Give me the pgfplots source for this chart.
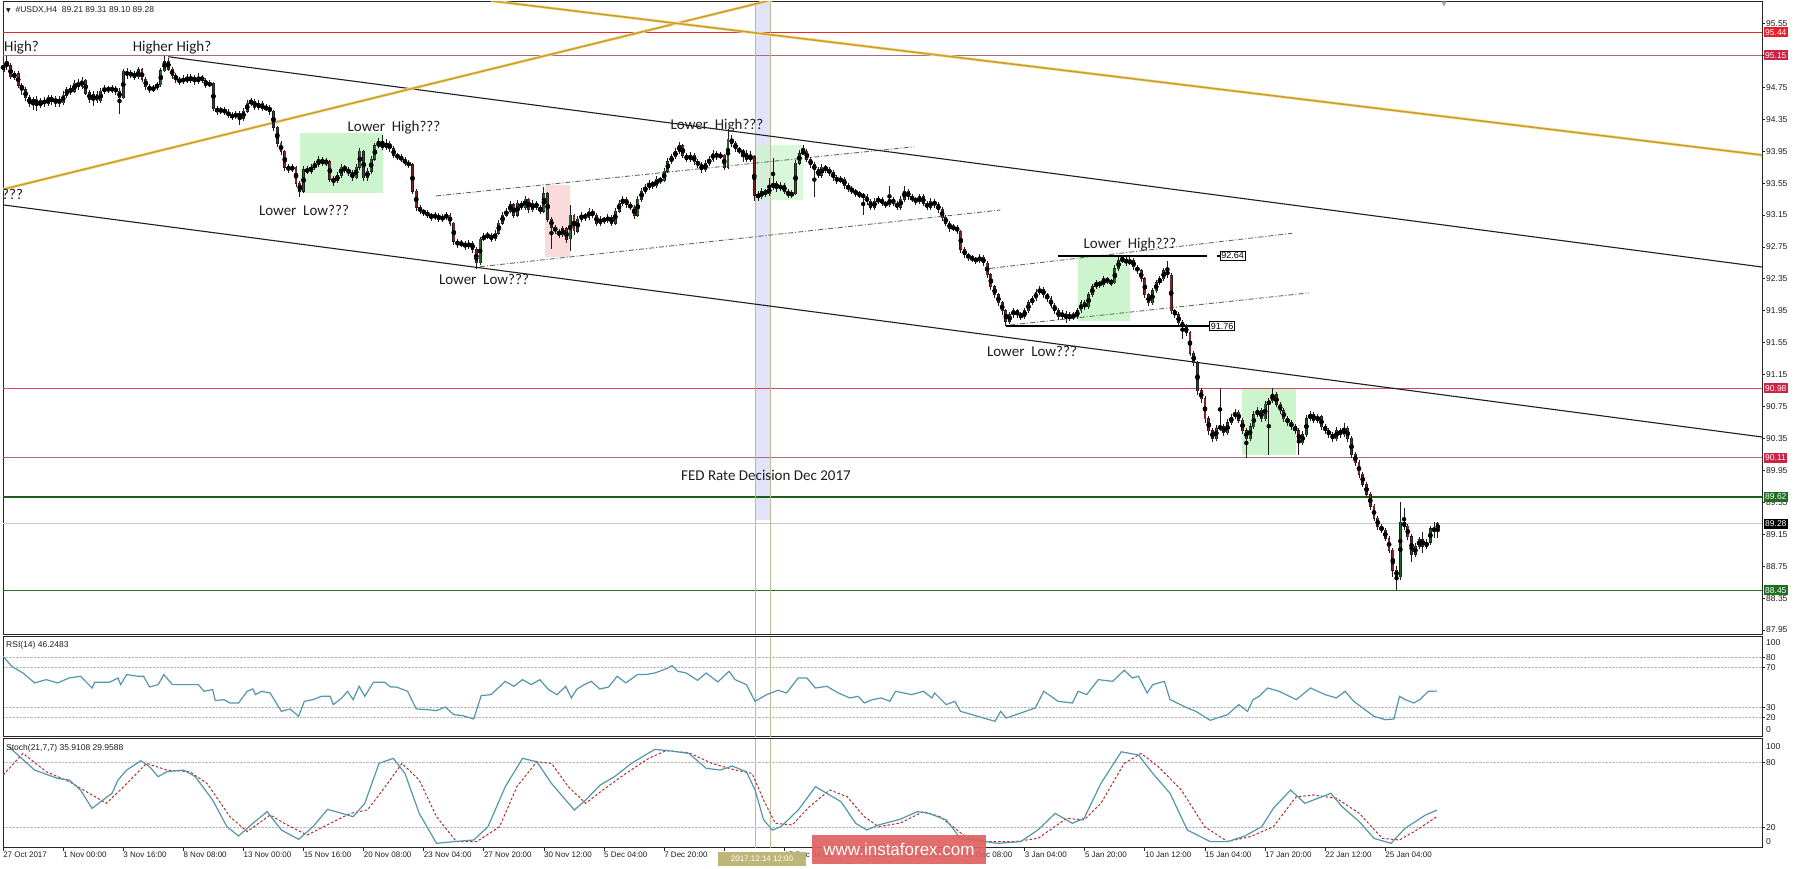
\documentclass[border=0pt]{standalone}
\usepackage{pgfplots}
\pgfplotsset{compat=1.18}
\usepackage{pgfplotstable}
\usepackage{fontspec}
\setmainfont{Liberation Sans}
\newfontfamily\annfont{Carlito}
\newfontfamily\symfont{DejaVu Sans}

\definecolor{upc}{RGB}{38,100,38}
\definecolor{dnc}{RGB}{130,36,36}
\definecolor{wickc}{RGB}{30,30,30}
\definecolor{goldc}{RGB}{204,160,40}
\definecolor{goldl}{RGB}{245,225,165}
\definecolor{chanc}{RGB}{30,30,30}
\definecolor{dashc}{RGB}{85,115,85}
\definecolor{red1}{RGB}{230,40,45}
\definecolor{mauve}{RGB}{165,110,125}
\definecolor{red2}{RGB}{215,70,90}
\definecolor{grn1}{RGB}{30,95,30}
\definecolor{grn2}{RGB}{45,110,45}
\definecolor{bidc}{RGB}{200,200,200}
\definecolor{boxg}{RGB}{205,245,205}
\definecolor{boxp}{RGB}{250,218,218}
\definecolor{bandc}{RGB}{226,226,248}
\definecolor{fedc}{RGB}{190,185,150}
\definecolor{rsic}{RGB}{85,150,175}
\definecolor{sigc}{RGB}{180,45,45}
\definecolor{lblr}{RGB}{232,30,40}
\definecolor{lblc}{RGB}{205,35,70}
\definecolor{lblg}{RGB}{30,110,30}
\definecolor{wmc}{RGB}{224,98,98}
\definecolor{khaki}{RGB}{190,182,120}
\definecolor{txtc}{RGB}{30,30,30}

\pgfplotstableread{
o c h l
94.95 95.05 95.10 94.90
95.05 95.02 95.14 94.97
95.02 94.88 95.06 94.85
94.88 94.92 94.96 94.84
94.92 94.78 94.95 94.74
94.78 94.72 94.81 94.66
94.72 94.62 94.76 94.58
94.62 94.55 94.66 94.50
94.55 94.60 94.63 94.47
94.60 94.52 94.64 94.45
94.52 94.58 94.62 94.49
94.58 94.55 94.63 94.51
94.55 94.62 94.66 94.52
94.62 94.57 94.66 94.53
94.57 94.60 94.64 94.50
94.60 94.56 94.64 94.50
94.56 94.65 94.70 94.53
94.65 94.72 94.76 94.62
94.72 94.70 94.78 94.66
94.70 94.80 94.84 94.68
94.80 94.76 94.86 94.72
94.76 94.84 94.88 94.73
94.84 94.68 94.86 94.65
94.68 94.60 94.72 94.56
94.60 94.66 94.70 94.52
94.66 94.58 94.70 94.55
94.58 94.70 94.74 94.55
94.70 94.74 94.78 94.67
94.74 94.71 94.77 94.68
94.71 94.74 94.78 94.68
94.74 94.70 94.77 94.66
94.70 94.62 94.74 94.42
94.62 94.95 94.98 94.60
94.95 94.90 94.99 94.86
94.90 94.93 94.97 94.87
94.93 94.88 94.96 94.84
94.88 94.97 95.00 94.85
94.97 94.85 94.99 94.82
94.85 94.76 94.88 94.72
94.76 94.72 94.79 94.68
94.72 94.75 94.78 94.69
94.75 94.78 94.82 94.72
94.78 94.96 95.00 94.76
94.96 95.08 95.15 94.94
95.08 94.98 95.12 94.95
94.98 94.90 95.01 94.86
94.90 94.85 94.93 94.80
94.85 94.82 94.88 94.78
94.82 94.86 94.90 94.79
94.86 94.84 94.92 94.80
94.84 94.87 94.92 94.81
94.87 94.82 94.90 94.78
94.82 94.88 94.93 94.79
94.88 94.84 94.91 94.80
94.84 94.78 94.87 94.74
94.78 94.80 94.84 94.75
94.80 94.48 94.82 94.45
94.48 94.45 94.52 94.41
94.45 94.47 94.51 94.42
94.47 94.44 94.50 94.40
94.44 94.40 94.48 94.36
94.40 94.38 94.44 94.34
94.38 94.42 94.46 94.35
94.42 94.36 94.45 94.28
94.36 94.45 94.49 94.33
94.45 94.55 94.59 94.43
94.55 94.58 94.62 94.52
94.58 94.50 94.61 94.47
94.50 94.55 94.59 94.47
94.55 94.48 94.58 94.45
94.48 94.50 94.54 94.45
94.50 94.45 94.53 94.41
94.45 94.25 94.47 94.21
94.25 94.05 94.27 94.00
94.05 93.95 94.08 93.90
93.95 93.75 93.97 93.70
93.75 93.72 93.79 93.68
93.72 93.75 93.79 93.69
93.75 93.55 93.77 93.50
93.55 93.45 93.58 93.38
93.45 93.72 93.76 93.43
93.72 93.70 93.76 93.66
93.70 93.75 93.79 93.67
93.75 93.78 93.83 93.72
93.78 93.85 93.89 93.75
93.85 93.80 93.88 93.76
93.80 93.82 93.87 93.77
93.82 93.60 93.84 93.56
93.60 93.58 93.64 93.52
93.58 93.65 93.69 93.55
93.65 93.75 93.79 93.62
93.75 93.72 93.78 93.68
93.72 93.68 93.75 93.64
93.68 93.62 93.71 93.58
93.62 93.75 93.79 93.60
93.75 93.95 93.99 93.72
93.95 93.62 93.97 93.58
93.62 93.70 93.74 93.58
93.70 93.85 93.89 93.67
93.85 94.02 94.06 93.83
94.02 94.05 94.12 93.99
94.05 94.00 94.15 93.96
94.00 94.05 94.10 93.96
94.05 93.98 94.08 93.94
93.98 93.90 94.01 93.86
93.90 93.88 93.93 93.84
93.88 93.85 93.91 93.81
93.85 93.80 93.88 93.76
93.80 93.78 93.84 93.74
93.78 93.45 93.80 93.41
93.45 93.25 93.48 93.20
93.25 93.20 93.28 93.16
93.20 93.18 93.23 93.14
93.18 93.15 93.21 93.11
93.15 93.12 93.18 93.08
93.12 93.15 93.19 93.09
93.15 93.10 93.18 93.06
93.10 93.12 93.16 93.07
93.12 93.15 93.19 93.09
93.15 93.05 93.18 93.01
93.05 92.82 93.07 92.78
92.82 92.78 92.85 92.74
92.78 92.80 92.84 92.75
92.80 92.75 92.83 92.71
92.75 92.80 92.84 92.72
92.80 92.72 92.83 92.68
92.72 92.55 92.75 92.47
92.55 92.85 92.88 92.52
92.85 92.88 92.92 92.82
92.88 92.90 92.94 92.85
92.90 92.85 92.93 92.81
92.85 92.92 92.96 92.82
92.92 93.05 93.09 92.90
93.05 93.15 93.19 93.02
93.15 93.20 93.24 93.12
93.20 93.28 93.32 93.17
93.28 93.15 93.30 93.11
93.15 93.30 93.34 93.13
93.30 93.25 93.33 93.21
93.25 93.35 93.39 93.22
93.35 93.22 93.37 93.18
93.22 93.30 93.34 93.19
93.30 93.25 93.33 93.21
93.25 93.20 93.28 93.16
93.20 93.42 93.50 93.18
93.42 93.10 93.44 93.06
93.10 93.00 93.13 92.72
93.00 92.95 93.03 92.91
92.95 92.90 92.98 92.86
92.90 92.98 93.02 92.87
92.98 92.85 93.00 92.80
92.85 93.15 93.28 92.70
93.15 92.95 93.17 92.90
92.95 93.10 93.14 92.92
93.10 93.15 93.19 93.07
93.15 93.12 93.18 93.08
93.12 93.20 93.24 93.09
93.20 93.15 93.23 93.11
93.15 93.05 93.18 93.01
93.05 93.10 93.14 93.02
93.10 93.08 93.13 93.04
93.08 93.12 93.16 93.05
93.12 93.05 93.15 93.01
93.05 93.20 93.24 93.03
93.20 93.30 93.34 93.18
93.30 93.35 93.39 93.27
93.35 93.28 93.38 93.24
93.28 93.25 93.31 93.21
93.25 93.15 93.28 93.10
93.15 93.35 93.39 93.13
93.35 93.45 93.49 93.32
93.45 93.50 93.54 93.42
93.50 93.55 93.59 93.47
93.55 93.52 93.58 93.48
93.52 93.60 93.64 93.49
93.60 93.58 93.63 93.54
93.58 93.70 93.74 93.56
93.70 93.82 93.86 93.68
93.82 93.88 93.92 93.79
93.88 93.95 93.99 93.85
93.95 94.02 94.06 93.92
94.02 93.90 94.04 93.86
93.90 93.85 93.93 93.81
93.85 93.90 93.94 93.82
93.90 93.82 93.93 93.78
93.82 93.78 93.85 93.74
93.78 93.72 93.81 93.68
93.72 93.80 93.84 93.69
93.80 93.85 93.89 93.77
93.85 93.92 93.96 93.82
93.92 93.88 93.95 93.84
93.88 93.90 93.94 93.85
93.90 93.75 93.92 93.71
93.75 94.10 94.20 93.73
94.10 94.05 94.16 94.01
94.05 93.98 94.08 93.94
93.98 93.95 94.01 93.91
93.95 93.92 93.98 93.82
93.92 93.85 93.96 93.81
93.85 93.88 93.95 93.82
93.88 93.40 93.90 93.33
93.40 93.38 93.45 93.33
93.38 93.45 93.49 93.35
93.45 93.42 93.48 93.38
93.42 93.50 93.62 93.39
93.50 93.55 93.86 93.47
93.55 93.48 93.58 93.44
93.48 93.52 93.56 93.45
93.52 93.45 93.55 93.41
93.45 93.40 93.48 93.36
93.40 93.42 93.46 93.37
93.42 93.80 93.84 93.40
93.80 93.92 93.96 93.78
93.92 93.95 94.03 93.90
93.95 93.85 93.98 93.81
93.85 93.78 93.88 93.74
93.78 93.72 93.81 93.38
93.72 93.65 93.75 93.61
93.65 93.75 93.79 93.62
93.75 93.72 93.78 93.68
93.72 93.68 93.75 93.64
93.68 93.62 93.71 93.58
93.62 93.58 93.65 93.54
93.58 93.60 93.64 93.55
93.60 93.52 93.63 93.48
93.52 93.48 93.55 93.44
93.48 93.45 93.51 93.41
93.45 93.42 93.48 93.38
93.42 93.40 93.45 93.36
93.40 93.38 93.43 93.15
93.38 93.32 93.41 93.28
93.32 93.25 93.35 93.21
93.25 93.32 93.36 93.22
93.32 93.35 93.39 93.29
93.35 93.30 93.38 93.26
93.30 93.28 93.33 93.24
93.28 93.35 93.52 93.25
93.35 93.30 93.38 93.26
93.30 93.25 93.33 93.21
93.25 93.35 93.39 93.22
93.35 93.45 93.52 93.32
93.45 93.38 93.48 93.34
93.38 93.35 93.41 93.31
93.35 93.32 93.38 93.28
93.32 93.38 93.42 93.29
93.38 93.30 93.41 93.26
93.30 93.25 93.33 93.21
93.25 93.32 93.36 93.22
93.32 93.28 93.35 93.24
93.28 93.22 93.31 93.18
93.22 93.12 93.25 93.08
93.12 93.05 93.15 93.01
93.05 92.98 93.08 92.94
92.98 93.00 93.04 92.95
93.00 92.95 93.03 92.91
92.95 92.72 92.97 92.68
92.72 92.65 92.75 92.61
92.65 92.62 92.68 92.58
92.62 92.60 92.65 92.56
92.60 92.58 92.63 92.54
92.58 92.62 92.66 92.55
92.62 92.55 92.65 92.51
92.55 92.40 92.58 92.36
92.40 92.25 92.43 92.21
92.25 92.15 92.28 92.11
92.15 92.05 92.18 92.01
92.05 91.95 92.08 91.90
91.95 91.82 91.98 91.76
91.82 91.90 91.94 91.78
91.90 91.95 91.99 91.86
91.95 91.90 91.98 91.86
91.90 91.88 91.93 91.84
91.88 91.95 91.99 91.85
91.95 92.05 92.09 91.92
92.05 92.10 92.14 92.02
92.10 92.18 92.22 92.07
92.18 92.22 92.26 92.15
92.22 92.15 92.25 92.11
92.15 92.10 92.18 92.06
92.10 92.02 92.13 91.98
92.02 91.95 92.05 91.91
91.95 91.88 91.98 91.84
91.88 91.92 91.96 91.85
91.92 91.85 91.95 91.80
91.85 91.90 91.94 91.82
91.90 91.88 91.93 91.83
91.88 91.95 91.99 91.85
91.95 92.05 92.09 91.92
92.05 92.00 92.08 91.96
92.00 92.15 92.19 91.98
92.15 92.25 92.29 92.12
92.25 92.30 92.34 92.22
92.30 92.28 92.33 92.24
92.28 92.35 92.39 92.25
92.35 92.32 92.38 92.28
92.32 92.30 92.35 92.26
92.30 92.48 92.52 92.28
92.48 92.58 92.62 92.45
92.58 92.60 92.65 92.55
92.60 92.55 92.63 92.51
92.55 92.58 92.62 92.52
92.58 92.50 92.61 92.46
92.50 92.45 92.53 92.41
92.45 92.35 92.48 92.31
92.35 92.15 92.38 92.11
92.15 92.05 92.18 92.01
92.05 92.20 92.24 92.02
92.20 92.30 92.34 92.17
92.30 92.35 92.39 92.27
92.35 92.45 92.49 92.32
92.45 92.40 92.58 92.36
92.40 91.95 92.42 91.91
91.95 91.90 91.98 91.86
91.90 91.80 91.93 91.76
91.80 91.75 91.83 91.60
91.75 91.68 91.78 91.64
91.68 91.42 91.70 91.38
91.42 91.30 91.45 91.26
91.30 90.95 91.32 90.90
90.95 90.85 90.98 90.80
90.85 90.60 90.88 90.55
90.60 90.45 90.63 90.40
90.45 90.35 90.48 90.30
90.35 90.48 90.52 90.32
90.48 90.50 90.98 90.45
90.50 90.42 90.53 90.38
90.42 90.55 90.59 90.39
90.55 90.62 90.66 90.52
90.62 90.68 90.72 90.59
90.68 90.58 90.71 90.54
90.58 90.45 90.61 90.41
90.45 90.35 90.48 90.11
90.35 90.50 90.54 90.32
90.50 90.65 90.69 90.47
90.65 90.70 90.74 90.62
90.70 90.60 90.73 90.56
90.60 90.78 90.82 90.57
90.78 90.82 90.86 90.15
90.82 90.90 90.98 90.79
90.90 90.78 90.93 90.74
90.78 90.70 90.81 90.66
90.70 90.60 90.73 90.56
90.60 90.55 90.63 90.51
90.55 90.50 90.58 90.46
90.50 90.45 90.53 90.41
90.45 90.30 90.48 90.15
90.30 90.40 90.44 90.27
90.40 90.60 90.64 90.37
90.60 90.65 90.69 90.57
90.65 90.58 90.68 90.54
90.58 90.62 90.66 90.55
90.62 90.50 90.65 90.46
90.50 90.45 90.53 90.41
90.45 90.40 90.48 90.36
90.40 90.35 90.43 90.31
90.35 90.45 90.49 90.32
90.45 90.40 90.48 90.36
90.40 90.48 90.55 90.37
90.48 90.35 90.51 90.31
90.35 90.15 90.38 90.11
90.15 90.05 90.18 90.01
90.05 89.90 90.08 89.86
89.90 89.78 89.93 89.74
89.78 89.65 89.81 89.61
89.65 89.50 89.68 89.46
89.50 89.35 89.53 89.31
89.35 89.25 89.38 89.21
89.25 89.20 89.28 89.16
89.20 89.10 89.23 89.06
89.10 88.95 89.13 88.91
88.95 88.70 88.98 88.62
88.70 88.62 88.75 88.45
88.62 89.30 89.55 88.58
89.30 89.25 89.48 89.20
89.25 89.12 89.28 89.08
89.12 88.90 89.15 88.80
88.90 89.00 89.04 88.86
89.00 89.08 89.12 88.96
89.08 89.00 89.18 88.92
89.00 89.05 89.09 88.97
89.05 89.22 89.26 89.02
89.22 89.20 89.31 89.10
89.21 89.28 89.31 89.10
}\candles

\pgfplotsset{
  panel/.style={
    scale only axis, width=1759pt,
    xmin=-0.02, xmax=468.3,
    axis line style={draw=black!85, line width=1pt},
    tick align=outside, major tick length=3pt,
    tick style={draw=black!85, line width=0.8pt},
    ytick pos=right, yticklabel pos=right,
    yticklabel style={font=\fontsize{8.5}{9}\selectfont, text=txtc, anchor=west, inner sep=1pt},
    /pgf/number format/assume math mode=true,
  },
  hl/.style={forget plot, line width=#1},
}

\begin{document}
\begin{tikzpicture}[x=1pt,y=1pt]
\useasboundingbox (0,0) rectangle (1800,868);
\fill[white] (0,0) rectangle (1800,868);

% ---------------- main price panel ----------------
\begin{axis}[panel, at={(3pt,866pt)}, anchor=north west, height=632pt,
  ymin=87.9, ymax=95.82, xtick=\empty,
  ytick={87.95,88.35,88.75,89.15,89.55,89.95,90.35,90.75,91.15,91.55,91.95,92.35,92.75,93.15,93.55,93.95,94.35,94.75,95.15,95.55},
  yticklabel style={/pgf/number format/.cd, fixed, fixed zerofill, precision=2},
]
% FED band
\addplot[forget plot, fill=bandc, draw=none] coordinates {(200.2,89.33) (204.2,89.33) (204.2,95.82) (200.2,95.82)} -- cycle;
% shaded boxes
\addplot[forget plot, fill=boxg, draw=none] coordinates {(79.1,93.43) (101.2,93.43) (101.2,94.18) (79.1,94.18)} -- cycle;
\addplot[forget plot, fill=boxp, draw=none] coordinates {(144.3,92.63) (151.0,92.63) (151.0,93.53) (144.3,93.53)} -- cycle;
\addplot[forget plot, fill=boxg, draw=none, opacity=0.75] coordinates {(200.2,93.34) (213.0,93.34) (213.0,94.03) (200.2,94.03)} -- cycle;
\addplot[forget plot, fill=boxg, draw=none] coordinates {(286.3,91.82) (300.1,91.82) (300.1,92.65) (286.3,92.65)} -- cycle;
\addplot[forget plot, fill=boxg, draw=none] coordinates {(329.9,90.14) (344.3,90.14) (344.3,90.98) (329.9,90.98)} -- cycle;
% horizontal levels
\addplot[hl=1pt, red1] coordinates {(-0.02,95.44) (468.3,95.44)};
\addplot[hl=1.6pt, mauve] coordinates {(-0.02,95.15) (468.3,95.15)};
\addplot[hl=1pt, red2] coordinates {(-0.02,90.98) (468.3,90.98)};
\addplot[hl=1.6pt, mauve] coordinates {(-0.02,90.11) (468.3,90.11)};
\addplot[hl=2pt, grn1] coordinates {(-0.02,89.62) (468.3,89.62)};
\addplot[hl=1pt, bidc] coordinates {(-0.02,89.28) (468.3,89.28)};
\addplot[hl=1pt, grn2] coordinates {(-0.02,88.45) (468.3,88.45)};
% FED vertical lines
\addplot[hl=1pt, fedc] coordinates {(200.2,87.9) (200.2,95.82)};
\addplot[hl=1pt, fedc] coordinates {(204.2,87.9) (204.2,95.82)};
% dash-dot channels
\addplot[hl=0.9pt, dashc, dash pattern=on 5pt off 2pt on 1pt off 2pt] coordinates {(115.3,93.39) (242.6,94.006)};
\addplot[hl=0.9pt, dashc, dash pattern=on 5pt off 2pt on 1pt off 2pt] coordinates {(127.0,92.503) (265.5,93.213)};
\addplot[hl=0.9pt, dashc, dash pattern=on 5pt off 2pt on 1pt off 2pt] coordinates {(262.8,92.482) (343.2,92.921)};
\addplot[hl=0.9pt, dashc, dash pattern=on 5pt off 2pt on 1pt off 2pt] coordinates {(268.1,91.772) (347.7,92.175)};
% black channel
\addplot[hl=1.1pt, chanc] coordinates {(43.96,95.134) (468.3,92.499)};
\addplot[hl=1.1pt, chanc] coordinates {(-0.02,93.2775) (468.3,90.369)};
% gold lines
\addplot[hl=3pt, goldl] coordinates {(-1,93.461) (210,95.908)};
\addplot[hl=1.6pt, goldc] coordinates {(-1,93.461) (210,95.908)};
\addplot[hl=3pt, goldl] coordinates {(130,95.834) (468.3,93.902)};
\addplot[hl=1.6pt, goldc] coordinates {(130,95.834) (468.3,93.902)};
% black level segments
\addplot[hl=1.8pt, black] coordinates {(280.9,92.64) (320.6,92.64)};
\addplot[hl=1.8pt, black] coordinates {(323.3,92.64) (324.6,92.64)};
\addplot[hl=1.8pt, black] coordinates {(267.1,91.76) (321.0,91.76)};
% candles: wicks
\addplot[forget plot, only marks, mark=none,
  error bars/.cd, y dir=both, y explicit, error mark=none,
  error bar style={draw=wickc, line width=0.9pt}]
  table[x expr=\coordindex, y expr={(\thisrow{h}+\thisrow{l})/2}, y error expr={(\thisrow{h}-\thisrow{l})/2}] {\candles};
% body outlines
\addplot[forget plot, only marks, mark=none,
  error bars/.cd, y dir=both, y explicit, error mark=none,
  error bar style={draw=wickc, line width=2.9pt}]
  table[x expr=\coordindex, y expr={(\thisrow{o}+\thisrow{c})/2}, y error expr={max(abs(\thisrow{c}-\thisrow{o})/2,0.007)+0.006}] {\candles};
% up bodies
\addplot[forget plot, only marks, mark=none, restrict y to domain=80:100,
  error bars/.cd, y dir=both, y explicit, error mark=none,
  error bar style={draw=upc, line width=1.5pt}]
  table[x expr=\coordindex, y expr={\thisrow{c}>=\thisrow{o} ? (\thisrow{o}+\thisrow{c})/2 : 0}, y error expr={max(abs(\thisrow{c}-\thisrow{o})/2,0.004)}] {\candles};
% down bodies
\addplot[forget plot, only marks, mark=none, restrict y to domain=80:100,
  error bars/.cd, y dir=both, y explicit, error mark=none,
  error bar style={draw=dnc, line width=1.5pt}]
  table[x expr=\coordindex, y expr={\thisrow{c}<\thisrow{o} ? (\thisrow{o}+\thisrow{c})/2 : 0}, y error expr={max(abs(\thisrow{c}-\thisrow{o})/2,0.004)}] {\candles};
% anchors for right labels
\coordinate (L1) at (axis cs:468.3,95.44);
\coordinate (L2) at (axis cs:468.3,95.15);
\coordinate (L3) at (axis cs:468.3,90.98);
\coordinate (L4) at (axis cs:468.3,90.11);
\coordinate (L5) at (axis cs:468.3,89.62);
\coordinate (L6) at (axis cs:468.3,89.28);
\coordinate (L7) at (axis cs:468.3,88.45);
\coordinate (B1) at (axis cs:324.0,92.64);
\coordinate (B2) at (axis cs:321.2,91.76);
\end{axis}

% ---------------- RSI panel ----------------
\begin{axis}[panel, at={(3pt,231pt)}, anchor=north west, height=100pt,
  ymin=0, ymax=100.6, xtick=\empty,
  ytick={20,30,70,80}, ymajorgrids,
  major grid style={draw=gray!55, densely dotted, line width=0.8pt},
]
\addplot[hl=1pt, fedc] coordinates {(200.2,0) (200.2,100.6)};
\addplot[hl=1pt, fedc] coordinates {(204.2,0) (204.2,100.6)};
\addplot[rsic, line width=1.2pt] coordinates {
(0,81.2) (2.3,71.1) (5.3,64.4) (8.4,54.4) (11.5,57.7) (14.5,54.4) (17.6,59.4) (20.6,61.1) (23.7,49.3) (24.4,55.0) (28.3,55.0) (30.6,59.4) (31.3,52.7) (32.9,62.8) (35.9,61.1) (37.4,61.1) (39.0,50.3) (41.3,52.7) (42.8,62.8) (45.1,52.7) (52.0,52.7) (53.5,46.0) (55.8,47.7) (56.5,36.6) (58.8,37.6) (60.4,34.2) (62.7,34.2) (65.0,46.0) (66.5,48.3) (67.2,42.6) (68.8,46.0) (71.1,44.3) (74.1,25.8) (76.4,28.2) (78.7,20.8) (80.2,35.9) (82.5,37.6) (84.8,40.9) (87.1,40.9) (87.9,32.6) (90.2,39.3) (91.7,46.0) (93.2,37.6) (94.8,51.0) (96.3,40.9) (98.6,55.0) (101.6,55.0) (103.2,50.3) (104.7,50.3) (107.7,46.0) (110.0,28.2) (113.1,27.5) (115.4,26.5) (117.7,30.2) (120.0,22.5) (122.3,21.5) (125.3,18.1) (127.3,41.6) (129.9,42.6) (133.7,56.0) (136.0,51.0) (138.3,57.7) (140.6,52.7) (142.9,57.7) (145.2,47.7) (147.5,42.6) (149.8,51.0) (151.3,39.3) (152.8,48.3) (155.1,53.4) (156.6,56.0) (158.9,48.3) (161.2,50.3) (163.5,61.1) (165.8,54.4) (168.9,62.8) (171.2,62.8) (173.5,64.4) (176.5,68.5) (178.1,71.8) (179.6,66.1) (181.9,64.4) (184.9,57.0) (187.2,64.4) (190.3,55.4) (193.3,66.1) (194.9,57.7) (197.9,52.7) (200.2,35.9) (203.3,42.6) (206.3,47.0) (208.6,44.3) (211.7,59.4) (214.0,59.4) (216.3,49.3) (219.3,51.0) (222.4,44.3) (225.4,39.3) (227.7,40.9) (229.3,34.2) (231.5,37.6) (233.8,39.3) (236.1,35.9) (237.6,46.0) (238.9,45.0) (241.9,42.6) (245.0,46.0) (247.3,39.3) (248.0,44.3) (251.1,32.6) (253.4,35.9) (254.9,25.8) (258.0,22.5) (261.0,19.1) (264.1,15.8) (265.6,25.8) (267.1,19.1) (271.0,24.2) (274.8,29.2) (277.1,46.0) (280.9,35.9) (284.7,34.2) (286.2,46.0) (288.5,42.6) (291.6,57.7) (295.4,56.0) (298.5,67.1) (300.7,59.4) (302.3,61.1) (304.6,44.3) (306.1,52.7) (309.2,56.0) (310.7,37.6) (315.3,29.2) (317.6,25.8) (321.4,16.8) (326.0,22.5) (329.0,32.6) (331.3,25.8) (332.8,37.6) (334.4,40.9) (336.7,49.3) (339.7,46.0) (344.3,37.6) (348.1,49.3) (352.0,42.6) (355.0,39.3) (357.3,46.0) (359.6,35.9) (365.0,20.8) (368.0,17.4) (370.3,18.1) (371.8,40.9) (373.3,37.6) (375.6,34.2) (377.2,37.6) (379.5,46.0) (381.8,46.2)
};
\end{axis}

% ---------------- Stochastic panel ----------------
\begin{axis}[panel, at={(3pt,129pt)}, anchor=north west, height=109pt,
  ymin=0.9, ymax=101.6,
  ytick={20,80}, ymajorgrids,
  major grid style={draw=gray!55, densely dotted, line width=0.8pt},
  xtick={0,16,32,48,64,80,96,112,128,144,160,176,192,208,224,240,256,272,288,304,320,336,352,368},
  xticklabels={27 Oct 2017,1 Nov 00:00,3 Nov 16:00,8 Nov 08:00,13 Nov 00:00,15 Nov 16:00,20 Nov 08:00,23 Nov 04:00,27 Nov 20:00,30 Nov 12:00,5 Dec 04:00,7 Dec 20:00,,15 Dec 04:00,19 Dec 20:00,22 Dec 12:00,28 Dec 08:00,3 Jan 04:00,5 Jan 20:00,10 Jan 12:00,15 Jan 04:00,17 Jan 20:00,22 Jan 12:00,25 Jan 04:00},
  xtick pos=left,
  xticklabel style={font=\fontsize{8}{9}\selectfont, text=txtc, anchor=north west, inner sep=1pt, xshift=-1pt},
]
\addplot[hl=1pt, fedc] coordinates {(200.2,0) (200.2,101.6)};
\addplot[hl=1pt, fedc] coordinates {(204.2,0) (204.2,101.6)};
\addplot[sigc, line width=1pt, dash pattern=on 2.5pt off 2pt] coordinates {
(0,68.3) (5.3,88.3) (11.5,71.4) (17.6,62.2) (22.2,52.9) (27.5,42.2) (32.1,57.5) (38.2,79.1) (43.6,72.9) (49.7,71.4) (54.3,60.6) (60.4,29.8) (65.0,16.0) (71.1,31.4) (75.6,22.2) (81.0,12.9) (87.1,23.7) (92.5,32.9) (97.0,36.0) (102.4,60.6) (106.2,79.1) (110.8,63.7) (115.4,29.8) (120.7,6.8) (126.1,6.8) (132.2,20.6) (136.8,57.5) (142.1,80.6) (146.0,79.1) (150.5,57.5) (155.1,42.2) (159.7,54.5) (165.8,69.8) (171.9,83.7) (176.5,90.8) (182.6,88.9) (188.7,79.1) (194.9,72.9) (199.4,69.8) (202.5,45.2) (205.6,23.7) (210.1,22.2) (214.7,39.1) (220.1,54.5) (224.7,48.3) (229.3,29.8) (233.1,20.6) (238.9,24.0) (245.0,34.5) (249.5,29.8) (255.7,12.9) (261.8,6.8) (269.4,6.8) (275.5,9.8) (283.2,28.3) (287.8,26.8) (292.3,42.2) (298.5,79.1) (303.0,88.3) (307.6,76.0) (313.7,54.5) (319.9,20.6) (326.0,6.8) (332.1,11.4) (338.2,20.6) (344.3,48.3) (348.9,49.8) (355.0,46.8) (361.1,32.9) (367.2,9.8) (371.8,8.3) (376.4,17.5) (381.8,30.0)
};
\addplot[rsic, line width=1.2pt] coordinates {
(1.5,94.5) (8.4,72.9) (14.5,65.2) (17.6,63.7) (20.6,54.5) (23.7,37.5) (26.0,43.7) (29.0,51.4) (30.6,63.7) (32.9,72.9) (36.7,81.5) (39.0,76.0) (41.3,66.8) (43.6,71.4) (48.1,72.9) (51.2,66.8) (55.8,45.2) (59.6,20.6) (62.7,12.0) (66.5,23.7) (70.3,34.5) (74.1,17.5) (78.7,8.9) (82.5,20.6) (86.4,36.6) (90.2,32.9) (93.2,29.8) (96.3,42.2) (100.1,79.1) (103.9,83.7) (107.0,69.8) (110.8,32.9) (115.4,5.2) (120.0,6.8) (125.3,8.3) (129.1,20.6) (133.7,57.5) (138.3,83.7) (142.1,80.6) (146.0,60.6) (149.8,45.2) (152.1,36.0) (155.1,45.2) (159.0,59.1) (162.8,66.8) (167.3,79.1) (173.5,92.0) (177.3,90.8) (182.6,88.3) (187.2,74.5) (191.0,72.9) (194.1,76.6) (197.9,71.4) (200.2,54.5) (202.5,26.8) (204.8,17.5) (207.1,20.6) (211.7,36.0) (216.3,57.5) (219.3,51.4) (223.1,43.7) (227.0,23.7) (230.0,17.5) (233.1,22.2) (238.9,27.5) (243.4,34.5) (246.5,32.9) (251.1,26.8) (254.9,9.8) (258.7,8.3) (264.8,5.2) (270.9,6.8) (275.5,17.5) (280.1,32.9) (284.7,23.7) (287.8,28.3) (292.3,60.6) (297.7,89.8) (302.3,86.8) (306.1,69.8) (310.7,51.4) (315.3,17.5) (321.4,6.8) (326.0,6.8) (330.6,12.0) (335.1,20.6) (338.2,37.5) (342.8,54.5) (346.6,42.2) (353.5,51.4) (356.5,39.1) (361.1,25.2) (365.0,9.8) (369.5,5.2) (373.3,19.1) (378.7,31.4) (381.8,35.9)
};
\end{axis}

% ---------------- overlays ----------------
\tikzset{pl/.style={anchor=west, text=white, font=\fontsize{8.5}{9}\selectfont, inner xsep=1.5pt, inner ysep=1.2pt, minimum height=10pt, xshift=1.5pt}}
\node[pl, fill=lblr] at (L1) {95.44};
\node[pl, fill=lblc] at (L2) {95.15};
\node[pl, fill=lblc] at (L3) {90.98};
\node[pl, fill=lblc] at (L4) {90.11};
\node[pl, fill=lblg] at (L5) {89.62};
\node[pl, fill=black] at (L6) {89.28};
\node[pl, fill=lblg] at (L7) {88.45};

\node[anchor=west, draw=black, fill=white, line width=0.6pt, inner xsep=1pt, inner ysep=1.5pt, font=\fontsize{9}{10}\selectfont] at (B1) {92.64};
\node[anchor=west, draw=black, fill=white, line width=0.6pt, inner xsep=1pt, inner ysep=1.5pt, font=\fontsize{9}{10}\selectfont] at (B2) {91.76};

% RSI/Stoch extreme labels
\node[anchor=west, font=\fontsize{8.5}{9}\selectfont, text=txtc, inner sep=1pt] at (1765,225) {100};
\node[anchor=west, font=\fontsize{8.5}{9}\selectfont, text=txtc, inner sep=1pt] at (1765,138) {0};
\node[anchor=west, font=\fontsize{8.5}{9}\selectfont, text=txtc, inner sep=1pt] at (1765,121) {100};
\node[anchor=west, font=\fontsize{8.5}{9}\selectfont, text=txtc, inner sep=1pt] at (1765,26) {0};

% header texts
\node[anchor=west, font=\fontsize{8.5}{10}\selectfont, text=txtc, inner sep=0pt] at (6,858) {{\symfont\fontsize{6}{6}\selectfont ▼}\ \ \#USDX,H4\ \ 89.21 89.31 89.10 89.28};
\node[anchor=west, font=\fontsize{8.5}{10}\selectfont, text=txtc, inner sep=0pt] at (6,223) {RSI(14) 46.2483};
\node[anchor=west, font=\fontsize{8.5}{10}\selectfont, text=txtc, inner sep=0pt] at (6,120) {Stoch(21,7,7) 35.9108 29.9588};
\node[text=gray!70, font=\symfont\fontsize{7}{7}\selectfont, inner sep=0pt] at (1444,863) {▼};

% annotations
\tikzset{ann/.style={font=\annfont\fontsize{15}{16}\selectfont, text=txtc, inner sep=0pt}}
\node[ann, anchor=west] at (4,820) {High?};
\node[ann] at (172,820) {Higher High?};
\node[ann] at (394,740) {Lower\ \ High???};
\node[ann] at (304,658) {Lower\ \ Low???};
\node[ann, anchor=west] at (2,674) {???};
\node[ann] at (484,589) {Lower\ \ Low???};
\node[ann] at (717,742) {Lower\ \ High???};
\node[ann] at (1130,623) {Lower\ \ High???};
\node[ann] at (1032,517) {Lower\ \ Low???};
\node[ann] at (766,393) {FED Rate Decision Dec 2017};

% highlighted date and watermark
\node[fill=khaki, text=white, font=\fontsize{8}{9}\selectfont, minimum width=88pt, minimum height=14pt, inner sep=1pt] at (762,9.5) {2017.12.14 12:00};
\fill[wmc, opacity=0.93] (812,4) rectangle (986,33);
\node[text=white, font=\fontsize{17}{18}\selectfont, inner sep=0pt] at (899,18.5) {www.instaforex.com};
\end{tikzpicture}
\end{document}
